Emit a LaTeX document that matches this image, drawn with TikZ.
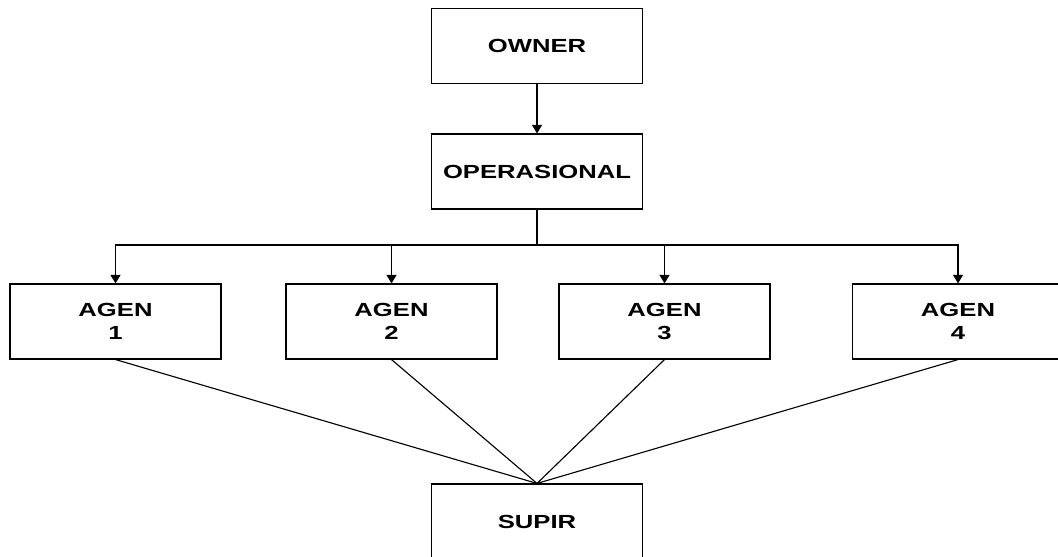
\documentclass[tikz,border=0pt]{standalone}
\usepackage{fontspec}
\setmainfont{Liberation Sans}[FakeStretch=1.35]
\usetikzlibrary{arrows.meta}
\tikzset{
  box/.style={draw, minimum width=5.275cm, minimum height=1.875cm, inner sep=0pt, align=center,
    font=\fontsize{13.5pt}{16.3pt}\selectfont\bfseries},
  arr/.style={-{Triangle[width=7pt,length=6pt]}},
}
\begin{document}
\begin{tikzpicture}[x=0.025cm, y=-0.025cm, line width=0.8pt]
\useasboundingbox (0,0) rectangle (1058,557);
\clip (0,0) rectangle (1058,557);
\node[box] (owner) at (537,46) {OWNER};
\node[box] (oper) at (537,171.5) {OPERASIONAL};
\node[box] (agen1) at (115.5,321.5) {AGEN\\1};
\node[box] (agen2) at (391.5,321.5) {AGEN\\2};
\node[box] (agen3) at (664.5,321.5) {AGEN\\3};
\node[box] (agen4) at (958,321.5) {AGEN\\4};
\node[box] (supir) at (537,521.5) {SUPIR};
\coordinate (bus) at (537,245);
\draw[arr] (owner) -- (oper);
\draw (oper) -- (bus);
\foreach \a in {agen1,agen2,agen3,agen4}
  \draw[arr] (bus) -| (\a.north);
\foreach \a in {agen1,agen2,agen3,agen4}
  \draw (\a.south) -- (supir.north);
\end{tikzpicture}
\end{document}
